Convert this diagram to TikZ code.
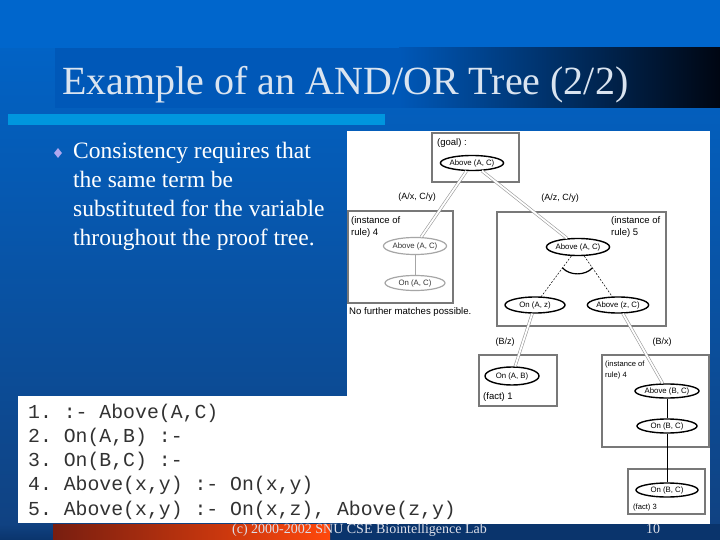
\documentclass[tikz,border=0pt]{standalone}
\usepackage{fontspec}
\setmainfont{Liberation Serif}
\setmonofont{Liberation Mono}
\newfontfamily\treefont{Liberation Sans}
\usetikzlibrary{shapes.geometric,calc}
\definecolor{bgtop}{RGB}{0,102,204}
\definecolor{bgbot}{RGB}{16,66,130}
\definecolor{barblue}{RGB}{0,88,184}
\definecolor{barblack}{RGB}{0,6,18}
\definecolor{lightbar}{RGB}{0,150,222}
\definecolor{titlecol}{RGB}{218,228,240}
\definecolor{bulletcol}{RGB}{176,168,240}
\definecolor{navy}{RGB}{10,52,108}
\definecolor{orangeL}{RGB}{120,30,16}
\definecolor{orangeR}{RGB}{255,72,12}
\definecolor{codecol}{RGB}{50,50,50}
\definecolor{boxgray}{RGB}{120,120,120}
\definecolor{footcol}{RGB}{220,222,232}
\begin{document}
\begin{tikzpicture}[x=1pt,y=-1pt,
  boxst/.style={draw=boxgray,line width=1.2pt},
  ellthick/.style={ellipse,draw=black,line width=1.4pt,fill=white,inner sep=0pt,font=\treefont\fontsize{7.8}{8}\selectfont},
  ellgray/.style={ellipse,draw=gray!70,line width=1.2pt,fill=white,inner sep=0pt,font=\treefont\fontsize{7.8}{8}\selectfont,text=gray!40!black},
  boxtext/.style={anchor=west,inner sep=0pt,font=\treefont\fontsize{9.5}{10}\selectfont},
  boxtextsmall/.style={anchor=west,inner sep=0pt,font=\treefont\fontsize{7.6}{8}\selectfont},
  sublab/.style={inner sep=0pt,font=\treefont\fontsize{9}{10}\selectfont},
  dbl/.style={draw=gray!80,double=white,double distance=1.8pt,line width=0.6pt},
  codeline/.style={anchor=base west,inner sep=0pt,text=codecol,font=\ttfamily\fontsize{19.8}{20}\selectfont},
  bulletline/.style={anchor=base west,inner sep=0pt,text=white,font=\fontsize{23.5}{26}\selectfont}]
\useasboundingbox (0,0) rectangle (720,540);
% background
\shade[top color=bgtop,bottom color=bgbot] (0,0) rectangle (720,524);
\fill[bgtop] (0,0) rectangle (720,48);
% title bar
\fill[barblue] (55,48) rectangle (400,108);
\shade[left color=barblue,right color=barblack] (399,48) rectangle (720,108);
\node[anchor=base west,inner sep=0pt,text=titlecol,font=\fontsize{40}{44}\selectfont] (title) at (62,95) {Example of an AND/OR Tree (2/2)};
\fill[lightbar] (8,114) rectangle (385,125);
% bullet
\node[diamond,fill=bulletcol,inner sep=0pt,minimum width=8pt,minimum height=10pt] (bul) at (58,153) {};
\node[bulletline] (b1) at (73,159) {Consistency requires that};
\node[bulletline] (b2) at (73,188) {the same term be};
\node[bulletline] (b3) at (73,216.5) {substituted for the variable};
\node[bulletline] (b4) at (73,245) {throughout the proof tree.};
% bottom band
\fill[navy] (0,524) rectangle (720,540);
\shade[top color=bgbot,bottom color=navy] (0,524) rectangle (53,540);
\shade[left color=orangeL,right color=orangeR] (53,524) rectangle (330,540);
% white areas
\fill[white] (18,396) rectangle (480,523);
\fill[white] (347,131) rectangle (710,524);
% code
\node[codeline] (c1) at (28,418) {1. :- Above(A,C)};
\node[codeline] (c2) at (28,442.25) {2. On(A,B) :-};
\node[codeline] (c3) at (28,466.5) {3. On(B,C) :-};
\node[codeline] (c4) at (28,490.75) {4. Above(x,y) :- On(x,y)};
\node[codeline] (c5) at (28,515) {5. Above(x,y) :- On(x,z), Above(z,y)};
% footer
\node[anchor=base west,inner sep=0pt,text=footcol,font=\fontsize{14}{15}\selectfont] (foot) at (232,533) {(c) 2000-2002 SNU CSE Biointelligence Lab};
\node[anchor=base,inner sep=0pt,text=footcol,font=\fontsize{14}{15}\selectfont] (pg) at (653,533) {10};
% tree: boxes
\draw[boxst] (432,133) rectangle (519,182);
\node[boxtext] (goaltxt) at (437,143) {(goal) :};
\draw[boxst] (348,211) rectangle (453,303);
\node[boxtext] (l4a) at (351,221) {(instance of};
\node[boxtext] (l4b) at (351,233) {rule) 4};
\draw[boxst] (497,212) rectangle (666,326);
\node[boxtext] (r5a) at (611,221) {(instance of};
\node[boxtext] (r5b) at (611,233) {rule) 5};
\draw[boxst] (479,355) rectangle (557,406);
\node[boxtext] (f1) at (483,397) {(fact) 1};
\draw[boxst] (602,355) rectangle (709,447);
\node[boxtextsmall] (r4a) at (605,365) {(instance of};
\node[boxtextsmall] (r4b) at (605,376) {rule) 4};
\draw[boxst] (628,469) rectangle (705,514);
\node[boxtextsmall] (f3t) at (633,508) {(fact) 3};
\node[anchor=west,inner sep=0pt,font=\treefont\fontsize{9.6}{10}\selectfont] (nofurther) at (349,312) {No further matches possible.};
% tree: ellipses
\node[ellthick,minimum width=56pt,minimum height=15pt] (g) at (472,163) {Above (A, C)};
\node[ellgray,minimum width=63pt,minimum height=17pt] (la) at (415,246) {Above (A, C)};
\node[ellgray,minimum width=60pt,minimum height=15pt] (lo) at (415,283) {On (A, C)};
\node[ellthick,minimum width=60pt,minimum height=17pt] (ra) at (578,247) {Above (A, C)};
\node[ellthick,minimum width=60pt,minimum height=16pt] (oz) at (535,305) {On (A, z)};
\node[ellthick,minimum width=58pt,minimum height=16pt] (az) at (618,305) {Above (z, C)};
\node[ellthick,minimum width=54pt,minimum height=18pt] (ab) at (512,376) {On (A, B)};
\node[ellthick,minimum width=64pt,minimum height=14pt] (bc) at (667,391) {Above (B, C)};
\node[ellthick,minimum width=60pt,minimum height=14pt] (obc) at (667,426) {On (B, C)};
\node[ellthick,minimum width=62pt,minimum height=14pt] (f3) at (667,490) {On (B, C)};
% tree: connectors
\draw[dbl] (g) -- (la);
\draw[dbl] (g) -- (ra);
\draw[dbl] (oz) -- (ab);
\draw[dbl] (az) -- (bc);
\draw[gray!70,line width=1pt] (la) -- (lo);
\draw[dashed,line width=0.5pt,dash pattern=on 2pt off 1.5pt] (ra) -- (oz);
\draw[dashed,line width=0.5pt,dash pattern=on 2pt off 1.5pt] (ra) -- (az);
\coordinate (andl) at ($(ra)!0.36!(oz)$);
\coordinate (andr) at ($(ra)!0.36!(az)$);
\draw[line width=1.2pt] (andl) .. controls ($(andl)+(7,8)$) and ($(andr)+(-7,8)$) .. (andr);
\draw[line width=1pt] (bc) -- (obc);
\draw[line width=1pt] (obc) -- (f3);
% tree: labels
\node[sublab] (lab1) at (417,197) {(A/x, C/y)};
\node[sublab] (lab2) at (560,198) {(A/z, C/y)};
\node[sublab] (lab3) at (505,342) {(B/z)};
\node[sublab] (lab4) at (662,342) {(B/x)};
\end{tikzpicture}
\end{document}
